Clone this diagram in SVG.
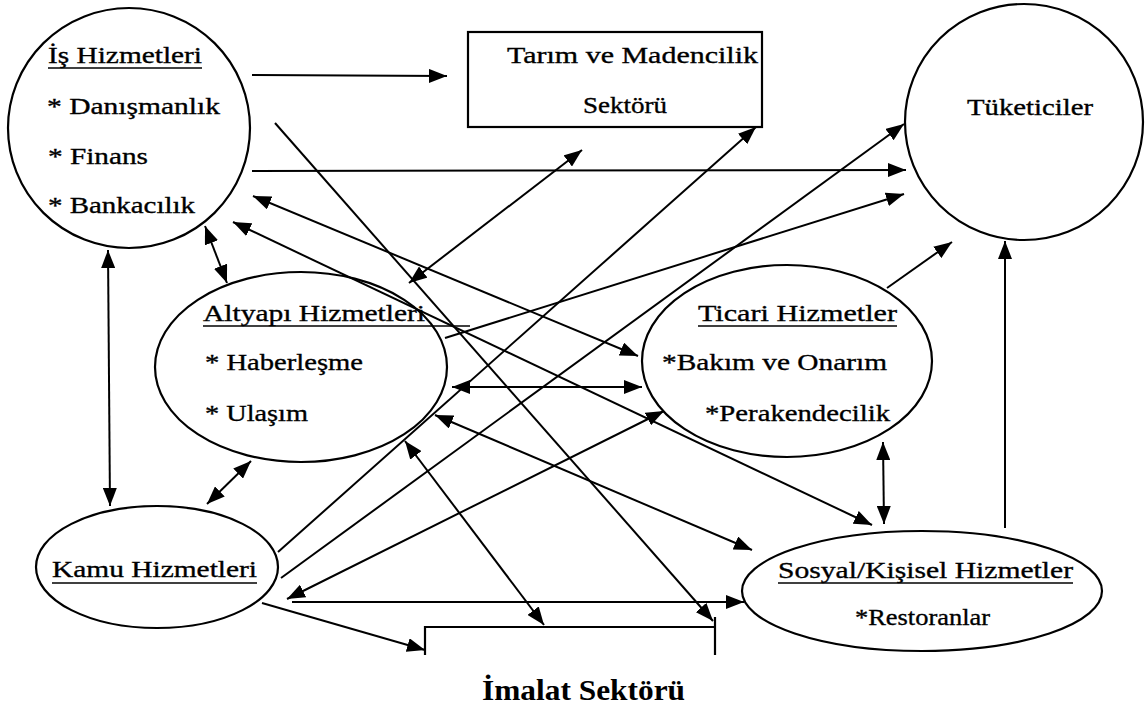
<svg xmlns="http://www.w3.org/2000/svg" width="1147" height="712" viewBox="0 0 1147 712">
<style>
.shape{fill:none;stroke:#000;stroke-width:2.2}
.t{font-family:"Liberation Serif","Times New Roman",serif;font-size:24px;fill:#000;stroke:#000;stroke-width:0.35}
.ul{stroke:#000;stroke-width:1.6}
.c line{stroke:#000;stroke-width:2}
.big{font-family:"Liberation Serif","Times New Roman",serif;font-size:30px;font-weight:bold;fill:#000}
</style>
<defs>
<marker id="ah" viewBox="0 0 18 14" refX="18" refY="7" markerWidth="18" markerHeight="14" markerUnits="userSpaceOnUse" orient="auto-start-reverse">
<path d="M0,0 L18,7 L0,14 z" fill="#000"/>
</marker>
</defs>
<rect width="1147" height="712" fill="#fff"/>

<g id="connectors" class="c">
<line x1="252" y1="75" x2="447" y2="76" marker-end="url(#ah)"/>
<line x1="252" y1="171" x2="906" y2="170" marker-end="url(#ah)"/>
<line x1="275" y1="123" x2="713" y2="621" marker-end="url(#ah)"/>
<line x1="253" y1="196" x2="638" y2="356" marker-start="url(#ah)" marker-end="url(#ah)"/>
<line x1="233" y1="222" x2="872" y2="525" marker-start="url(#ah)" marker-end="url(#ah)"/>
<line x1="205" y1="226" x2="227" y2="283" marker-start="url(#ah)" marker-end="url(#ah)"/>
<line x1="108" y1="250" x2="110" y2="506" marker-start="url(#ah)" marker-end="url(#ah)"/>
<line x1="409" y1="283" x2="582" y2="150" marker-start="url(#ah)" marker-end="url(#ah)"/>
<line x1="445" y1="338" x2="904" y2="194" marker-end="url(#ah)"/>
<line x1="452" y1="387" x2="642" y2="387" marker-start="url(#ah)" marker-end="url(#ah)"/>
<line x1="435" y1="415" x2="752" y2="550" marker-start="url(#ah)" marker-end="url(#ah)"/>
<line x1="405" y1="441" x2="544" y2="625" marker-start="url(#ah)" marker-end="url(#ah)"/>
<line x1="251" y1="461" x2="207" y2="504" marker-start="url(#ah)" marker-end="url(#ah)"/>
<line x1="278" y1="552" x2="756" y2="127" marker-end="url(#ah)"/>
<line x1="281" y1="578" x2="904" y2="124" marker-end="url(#ah)"/>
<line x1="287" y1="599" x2="664" y2="411" marker-start="url(#ah)" marker-end="url(#ah)"/>
<line x1="292" y1="602" x2="744" y2="602" marker-end="url(#ah)"/>
<line x1="262" y1="603" x2="425" y2="650" marker-end="url(#ah)"/>
<line x1="887" y1="288" x2="952" y2="242" marker-end="url(#ah)"/>
<line x1="883" y1="442" x2="884" y2="524" marker-start="url(#ah)" marker-end="url(#ah)"/>
<line x1="1005" y1="528" x2="1005" y2="241" marker-end="url(#ah)"/>
</g>

<g id="is-hizmetleri">
<ellipse class="shape" cx="129" cy="128" rx="121" ry="120"/>
<text class="t" x="48" y="63" textLength="154" lengthAdjust="spacingAndGlyphs">İş Hizmetleri</text>
<line class="ul" x1="48" y1="68" x2="202" y2="68"/>
<text class="t" x="47" y="114" textLength="173" lengthAdjust="spacingAndGlyphs">* Danışmanlık</text>
<text class="t" x="48" y="164" textLength="100" lengthAdjust="spacingAndGlyphs">* Finans</text>
<text class="t" x="48" y="213" textLength="147" lengthAdjust="spacingAndGlyphs">* Bankacılık</text>
</g>

<g id="tarim">
<rect class="shape" x="468" y="32" width="294" height="95"/>
<text class="t" x="507" y="63" textLength="251" lengthAdjust="spacingAndGlyphs">Tarım ve Madencilik</text>
<text class="t" x="583" y="113" textLength="84" lengthAdjust="spacingAndGlyphs">Sektörü</text>
</g>

<g id="tuketiciler">
<ellipse class="shape" cx="1024" cy="122" rx="119" ry="118"/>
<text class="t" x="967" y="115" textLength="126" lengthAdjust="spacingAndGlyphs">Tüketiciler</text>
</g>

<g id="altyapi">
<ellipse class="shape" cx="301" cy="367" rx="146" ry="95"/>
<text class="t" x="203" y="321" textLength="222" lengthAdjust="spacingAndGlyphs">Altyapı Hizmetleri</text>
<line class="ul" x1="203" y1="326" x2="470" y2="326"/>
<text class="t" x="205" y="370" textLength="158" lengthAdjust="spacingAndGlyphs">* Haberleşme</text>
<text class="t" x="205" y="421" textLength="103" lengthAdjust="spacingAndGlyphs">* Ulaşım</text>
</g>

<g id="ticari">
<ellipse class="shape" cx="787" cy="361" rx="145" ry="96"/>
<text class="t" x="698" y="321" textLength="199" lengthAdjust="spacingAndGlyphs">Ticari Hizmetler</text>
<line class="ul" x1="698" y1="326" x2="897" y2="326"/>
<text class="t" x="662" y="370" textLength="225" lengthAdjust="spacingAndGlyphs">*Bakım ve Onarım</text>
<text class="t" x="705" y="421" textLength="185" lengthAdjust="spacingAndGlyphs">*Perakendecilik</text>
</g>

<g id="kamu">
<ellipse class="shape" cx="157" cy="567" rx="121" ry="61"/>
<text class="t" x="52" y="577" textLength="205" lengthAdjust="spacingAndGlyphs">Kamu Hizmetleri</text>
<line class="ul" x1="52" y1="583" x2="257" y2="583"/>
</g>

<g id="sosyal">
<ellipse class="shape" cx="922" cy="591" rx="180" ry="60"/>
<text class="t" x="778" y="578" textLength="295" lengthAdjust="spacingAndGlyphs">Sosyal/Kişisel Hizmetler</text>
<line class="ul" x1="778" y1="583" x2="1073" y2="583"/>
<text class="t" x="855" y="625" textLength="135" lengthAdjust="spacingAndGlyphs">*Restoranlar</text>
</g>

<g id="imalat">
<path class="shape" d="M425,655 L425,627 L715,627 M715,617 L715,655"/>
<text class="big" x="482" y="700" textLength="203" lengthAdjust="spacingAndGlyphs">İmalat Sektörü</text>
</g>
</svg>
